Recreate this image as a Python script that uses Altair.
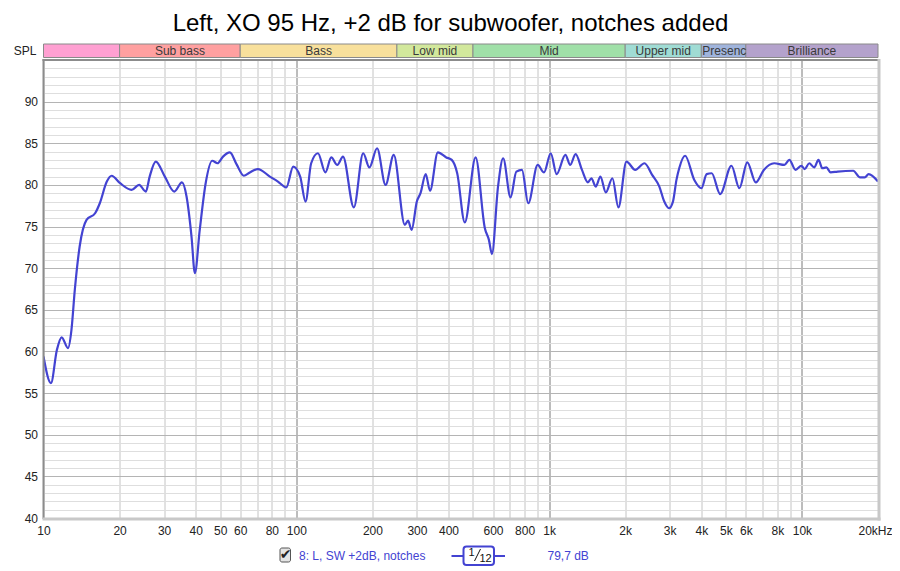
import altair as alt
import pandas as pd

freq = [10.0, 10.7, 11.3, 11.8, 12.5, 12.9, 13.3, 13.9, 14.8, 16.0, 16.7, 17.8, 18.6,
        20.1, 22.3, 23.9, 25.4, 26.3, 27.8, 30.2, 32.9, 35.3, 36.8, 38.5, 39.7, 41.5,
        43.8, 46.5, 48.8, 51.3, 54.6, 58.0, 62.0, 65.5, 70.5, 78.6, 84.6, 91.3, 97.2,
        103.6, 108.8, 114.5, 121.8, 130.3, 137.5, 145.3, 153.0, 168.9, 183.9, 194.6,
        208.7, 225.5, 242.9, 268.7, 276.7, 285.9, 299.8, 310, 325, 338, 363, 392, 412,
        433, 464, 512, 557, 578, 594, 628, 658, 704, 742, 781, 827, 901, 955, 1015,
        1071, 1160, 1212, 1273, 1349, 1424, 1470, 1529, 1596, 1676, 1780, 1880, 2023,
        2192, 2384, 2556, 2730, 2855, 2980, 3090, 3190, 3271, 3452, 3753, 4004, 4200,
        4398, 4749, 5264, 5658, 6080, 6568, 7070, 7770, 8525, 8920, 9440, 9950, 10250,
        10690, 11190, 11630, 12050, 12490, 12990, 13840, 15960, 16990, 17730, 18370, 20000]
spl = [59.4, 56.2, 60.2, 61.7, 60.4, 62.6, 67.4, 72.6, 75.8, 76.6, 77.8, 80.4, 81.1,
       80.2, 79.4, 80.0, 79.2, 81.0, 82.8, 81.0, 79.2, 80.3, 78.6, 73.8, 69.4, 74.6,
       80.2, 82.9, 82.6, 83.4, 83.9, 82.5, 81.1, 81.5, 81.9, 81.0, 80.4, 79.7, 82.2,
       81.0, 78.0, 82.6, 83.8, 81.5, 83.3, 82.4, 83.4, 77.3, 83.8, 82.1,
       84.4, 80.0, 83.6, 75.2, 75.7, 74.6, 78.0, 79.0, 81.3, 79.3, 83.9, 83.3, 83.0,
       81.4, 75.5, 83.3, 74.8, 73.4, 71.7, 79.8, 83.2, 78.5, 81.6, 81.8, 77.8, 82.4, 81.5, 83.8,
       81.3, 83.6, 82.4, 83.7, 81.8, 80.3, 80.8, 79.8, 81.0, 79.1, 80.8, 77.3, 82.8,
       81.8, 82.6, 81.2, 79.8, 78.0, 77.2, 78.0, 80.6, 82.0, 83.5, 80.6, 79.6, 81.3,
       81.4, 78.9, 82.3, 79.6, 82.7, 80.3, 81.8, 82.6, 82.4, 83.0, 81.8, 82.3, 81.9,
       82.6, 82.1, 83.0, 82.0, 82.1, 81.5, 81.6, 81.7, 80.9, 80.9, 81.3, 80.4]

# ---- frequency bands strip ----
band_start = [10, 20, 60, 250, 500, 2000, 4000, 6000]
band_end = [20, 60, 250, 500, 2000, 4000, 6000, 20000]
band_label = ["", "Sub bass", "Bass", "Low mid", "Mid", "Upper mid", "Presence", "Brilliance"]
band_color = ["#ffa0d2", "#ffa0a0", "#f8e09c", "#d2e89c", "#a0e0a8", "#a0dcd4", "#a0b4dc", "#b4a2cc"]

# ---- axes ----
x_grid = [10, 20, 30, 40, 50, 60, 70, 80, 90, 100, 200, 300, 400, 500, 600, 700, 800, 900,
          1000, 2000, 3000, 4000, 5000, 6000, 7000, 8000, 9000, 10000, 20000]
x_label_vals = [10, 20, 30, 40, 50, 60, 80, 100, 200, 300, 400, 600, 800, 1000, 2000, 3000,
                4000, 5000, 6000, 8000, 10000, 20000]
x_label_text = ["10", "20", "30", "40", "50", "60", "80", "100", "200", "300", "400", "600",
                "800", "1k", "2k", "3k", "4k", "5k", "6k", "8k", "10k", "20kHz"]
y_grid = list(range(40, 96))

title_text = "Left, XO 95 Hz, +2 dB for subwoofer, notches added"
legend_name = "8: L, SW +2dB, notches"
legend_value = "79,7 dB"

W, H = 834.5, 458
FONT = "Liberation Sans"
BLUE = "#4343d2"

x_expr = "".join(f"abs(datum.value - {v}) < {v * 0.001} ? '{t}' : " for v, t in zip(x_label_vals, x_label_text)) + "''"

xscale = alt.Scale(type="log", domain=[10, 20000], nice=False)
yscale = alt.Scale(domain=[40, 95], nice=False, zero=False)

xaxis = alt.Axis(
    values=x_grid, labelExpr=x_expr, title=None, domain=False, ticks=False,
    labelOverlap=False, labelFlush=False, labelPadding=7, labelFontSize=12,
    labelFont=FONT, labelColor="#222222",
    labelOffset={"condition": {"test": "datum.value > 15000", "value": -3}, "value": 0},
    gridColor={"condition": {"test": "abs(datum.value - 100) < 1 || abs(datum.value - 1000) < 1 || abs(datum.value - 10000) < 1",
                             "value": "#7a7a7a"}, "value": "#c4c4c4"},
    gridWidth=1)

df = pd.DataFrame({"f": freq, "spl": spl})
bands = pd.DataFrame({"f0": band_start, "f1": band_end, "label": band_label, "color": band_color})

line = alt.Chart(df).mark_line(color=BLUE, strokeWidth=2.2, interpolate="monotone", clip=True).encode(
    x=alt.X("f:Q", scale=xscale, axis=xaxis),
    y=alt.Y("spl:Q", scale=yscale, axis=alt.Axis(
        values=y_grid, labelExpr="datum.value % 5 == 0 && datum.value < 95 ? datum.value : ''",
        title=None, domain=False, ticks=False, labelOverlap=False, labelFlush=False,
        labelPadding=6, labelFontSize=12, labelFont=FONT, labelColor="#222222",
        gridColor={"condition": {"test": "datum.value % 5 == 0", "value": "#b4b4b4"}, "value": "#dedede"},
        gridWidth=1)),
)

band_rect = alt.Chart(bands).mark_rect(stroke="#8a8a8a", strokeWidth=1).encode(
    x=alt.X("f0:Q", scale=xscale, axis=xaxis),
    x2="f1:Q",
    y=alt.value(-16), y2=alt.value(-2.5),
    color=alt.Color("color:N", scale=None),
)

band_text = alt.Chart(bands).transform_filter("datum.label != 'Presence'").transform_calculate(
    fc="sqrt(datum.f0*datum.f1)").mark_text(fontSize=12, font=FONT, color="#3a3a3a", baseline="middle").encode(
    x=alt.X("fc:Q", scale=xscale, axis=xaxis), y=alt.value(-9), text="label:N")

pres_text = alt.Chart(bands).transform_filter("datum.label == 'Presence'").mark_text(
    fontSize=12, font=FONT, color="#3a3a3a", baseline="middle", align="left", dx=1,
    limit=47, ellipsis="\u200b").encode(
    x=alt.X("f0:Q", scale=xscale, axis=xaxis), y=alt.value(-9), text="label:N")

spl_lab = alt.Chart(pd.DataFrame({"t": ["SPL"]})).mark_text(
    fontSize=12, font=FONT, color="#222222", align="right", baseline="middle").encode(
    x=alt.value(-7), y=alt.value(-9.5), text="t:N")

title = alt.Chart(pd.DataFrame({"t": [title_text]})).mark_text(
    fontSize=24, font=FONT, color="#000000", align="center", baseline="alphabetic").encode(
    x=alt.value(407), y=alt.value(-29), text="t:N")

one = pd.DataFrame({"a": [0]})
border_top = alt.Chart(one).mark_rule(color="#8c8c8c", strokeWidth=2).encode(
    x=alt.value(-1), x2=alt.value(W + 1), y=alt.value(0))
border_left = alt.Chart(one).mark_rule(color="#8c8c8c", strokeWidth=2).encode(
    x=alt.value(0), y=alt.value(-1), y2=alt.value(H + 1))
border_right = alt.Chart(one).mark_rule(color="#c8c8c8", strokeWidth=3).encode(
    x=alt.value(W + 1), y=alt.value(-1), y2=alt.value(H + 2.5))
border_bottom = alt.Chart(one).mark_rule(color="#c8c8c8", strokeWidth=3).encode(
    x=alt.value(-1), x2=alt.value(W + 2.5), y=alt.value(H + 1))

# legend row
LY = 496
chk_box = alt.Chart(one).mark_rect(fill="#e4e4e4", stroke="#555555", strokeWidth=1, cornerRadius=2).encode(
    x=alt.value(236.5), x2=alt.value(247), y=alt.value(LY - 8), y2=alt.value(LY + 6))
chk = alt.Chart(pd.DataFrame({"t": ["\u2714"]})).mark_text(
    fontSize=14, font="DejaVu Sans", color="#222222", align="center", baseline="middle").encode(
    x=alt.value(242), y=alt.value(LY - 1.5), text="t:N")
leg_name = alt.Chart(pd.DataFrame({"t": [legend_name]})).mark_text(
    fontSize=12, font=FONT, color=BLUE, align="left", baseline="middle").encode(
    x=alt.value(255.5), y=alt.value(LY), text="t:N")
leg_line = alt.Chart(one).mark_rule(color=BLUE, strokeWidth=2).encode(
    x=alt.value(408), x2=alt.value(461.5), y=alt.value(LY))
leg_box = alt.Chart(one).mark_rect(fill="white", stroke=BLUE, strokeWidth=2, cornerRadius=3).encode(
    x=alt.value(420), x2=alt.value(450.5), y=alt.value(LY - 9.5), y2=alt.value(LY + 9))
leg_one = alt.Chart(pd.DataFrame({"t": ["1"]})).mark_text(
    fontSize=11, font=FONT, color="#111111", align="center", baseline="middle").encode(
    x=alt.value(428), y=alt.value(LY - 3), text="t:N")
leg_slash = alt.Chart(one).mark_rule(color="#111111", strokeWidth=1).encode(
    x=alt.value(431), x2=alt.value(437), y=alt.value(LY + 5), y2=alt.value(LY - 7))
leg_twelve = alt.Chart(pd.DataFrame({"t": ["12"]})).mark_text(
    fontSize=11, font=FONT, color="#111111", align="center", baseline="middle").encode(
    x=alt.value(442), y=alt.value(LY + 3), text="t:N")
leg_val = alt.Chart(pd.DataFrame({"t": [legend_value]})).mark_text(
    fontSize=12, font=FONT, color=BLUE, align="left", baseline="middle").encode(
    x=alt.value(504), y=alt.value(LY), text="t:N")

chart = alt.layer(
    line, band_rect, band_text, pres_text, spl_lab, title,
    border_top, border_left, border_right, border_bottom,
    chk_box, chk, leg_name, leg_line, leg_box, leg_one, leg_slash, leg_twelve, leg_val,
).properties(
    width=W, height=H,
    padding={"left": 35.5, "top": 52, "right": 13.5, "bottom": 50},
    autosize=alt.AutoSizeParams(type="none"),
    background="white",
).configure_view(stroke=None)

chart.save("out.html", embed_options={"renderer": "svg", "actions": False})
